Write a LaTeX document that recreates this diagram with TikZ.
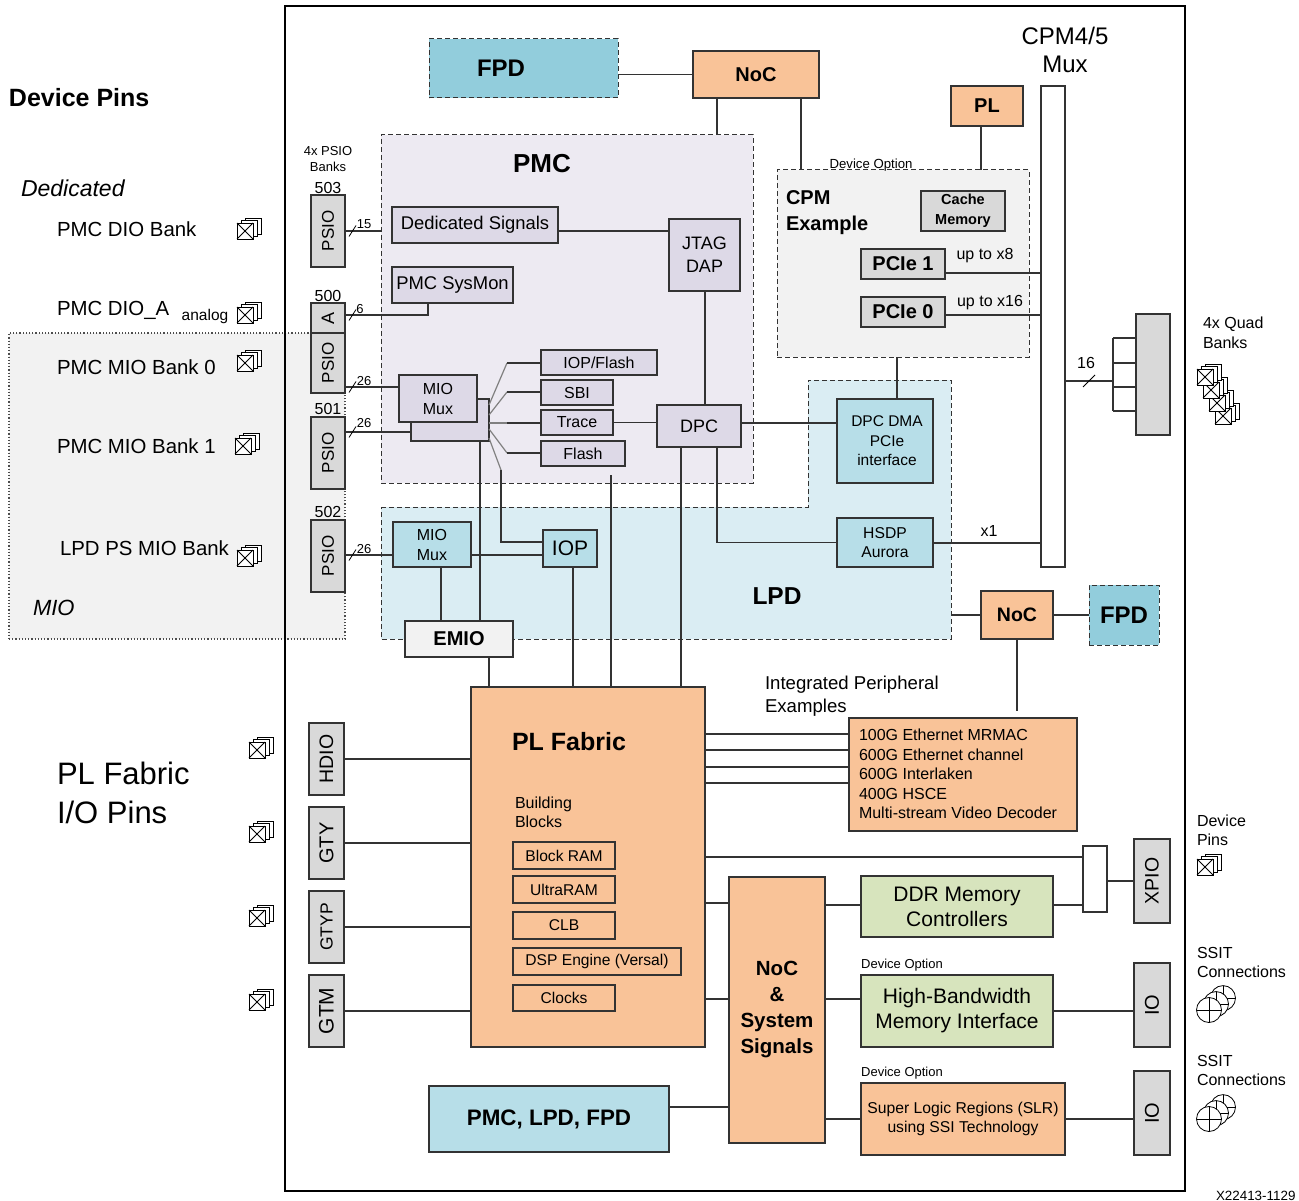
\documentclass[tikz,border=0pt]{standalone}
\usepackage{fontspec}
\setmainfont{Liberation Sans}
\usetikzlibrary{arrows.meta, positioning, calc}
\definecolor{pmcbg}{HTML}{EDEAF2}
\definecolor{pmcbox}{HTML}{DDD9E7}
\definecolor{lpdbg}{HTML}{DAEDF3}
\definecolor{lpdbox}{HTML}{B7DEE8}
\definecolor{fpdbox}{HTML}{92CDDC}
\definecolor{plbox}{HTML}{F9C398}
\definecolor{ddrbox}{HTML}{D7E4BD}
\definecolor{iobox}{HTML}{D9D9D9}
\definecolor{lightbox}{HTML}{F2F2F2}
\definecolor{wirec}{HTML}{333333}

\begin{document}
\begin{tikzpicture}[
  x=1pt, y=-1pt,
  fs/.style 2 args={font=\fontsize{#1}{#2}\selectfont},
  bf/.style 2 args={font=\fontsize{#1}{#2}\selectfont\bfseries},
  rect/.style args={#1,#2,#3,#4}{at={({(#1+#3)/2},{(#2+#4)/2})}, minimum width={(#3-#1)*1pt}, minimum height={(#4-#2)*1pt}},
  st/.style={draw=wirec, line width=1.2pt, inner sep=0pt, outer sep=0pt, align=center, fs={18}{23}},
  region/.style={draw=wirec, line width=1pt, dash pattern=on 5pt off 3pt, inner sep=0pt, outer sep=0pt},
  pmcst/.style={st, fill=pmcbox},
  lpdst/.style={st, fill=lpdbox},
  plst/.style={st, fill=plbox},
  iost/.style={st, fill=iobox},
  block/.style={st, fs={15.6}{20}},
  lbl/.style={inner sep=0pt, outer sep=0pt, align=left, anchor=west},
  wire/.style={draw=wirec, line width=1.5pt},
  fan/.style={draw=gray, line width=1.2pt},
  pinicon/.pic={
    \foreach \d in {8,4,0} {
      \draw[fill=white, line width=0.8pt] (-8+\d,-8-\d*0.6) rectangle (8+\d,8-\d*0.6);
    }
    \draw[line width=0.8pt] (-8,-8) -- (8,8) (-8,8) -- (8,-8);
  },
  ssiticon/.pic={
    \foreach \d in {14,7,0} {
      \draw[fill=white, line width=0.8pt] (\d,-\d*0.85) circle (12.5);
      \draw[line width=0.8pt] (\d-12.5,-\d*0.85) -- (\d+12.5,-\d*0.85) (\d,-\d*0.85-12.5) -- (\d,-\d*0.85+12.5);
    }
  }
]
  \useasboundingbox (0,0) rectangle (1299,1201);

  % regions behind everything
  \node[rect={9,333,345,639}, draw=black!70, dotted, line width=1.2pt, fill=lightbox, inner sep=0pt, outer sep=0pt] (miozone) {};
  \node[rect={285,6,1185,1191}, draw=black, line width=2.6pt, inner sep=0pt, outer sep=0pt] (chip) {};
  \node[region, fill=pmcbg, rect={381,135,753,483}] (pmc) {};
  \draw[region, fill=lpdbg] (381,507) -- (808,507) -- (808,380) -- (951,380) -- (951,639) -- (381,639) -- cycle;
  \node[region, fill=lightbox, rect={777,170,1029,357}] (cpm) {};

  % top row
  \node[region, fill=fpdbox, rect={429,39,618,98}] (fpdtop) {};
  \node[bf={24}{30}] (fpdtoptxt) at (501,68) {FPD};
  \node[plst, bf={20}{26}, rect={693,51,819,98}] (noctop) {NoC};
  \node[plst, bf={20}{26}, rect={951,86,1023,126}] (plbank) {PL};
  \node[st, fill=white, rect={1041,86,1065,567}] (cpmmux) {};
  \node[fs={24}{28}, align=center] (cpmmuxtxt) at (1065,50) {CPM4/5\\Mux};

  % CPM
  \node[fs={13.2}{16}] (cpmopt) at (871,165) {Device Option};
  \node[lbl, bf={20}{26}] (cpmtxt) at (786,213) {CPM\\Example};
  \node[iost, bf={14.5}{20}, rect={921,191,1005,231}] (cache) {Cache\\Memory};
  \node[iost, bf={20}{24}, rect={861,249,945,279}] (pcie1) {PCIe 1};
  \node[iost, bf={20}{24}, rect={861,297,945,327}] (pcie0) {PCIe 0};
  \node[fs={16}{20}] (upx8) at (985,256) {up to x8};
  \node[fs={16}{20}] (upx16) at (990,303) {up to x16};

  % PMC
  \node[bf={26}{30}] (pmctxt) at (542,164) {PMC};
  \node[pmcst, fs={18.4}{24}, rect={392,207,558,243}] (dedsig) {Dedicated Signals};
  \node[pmcst, fs={18.4}{24}, rect={392,267,513,303}] (sysmon) {PMC SysMon};
  \node[pmcst, rect={669,219,740,291}] (jtag) {JTAG\\DAP};
  \node[pmcst, rect={411,399,489,441}] (muxback) {};
  \node[pmcst, fs={16}{20}, rect={399,375,477,422}] (pmcmux) {MIO\\Mux};
  \node[pmcst, fs={16}{21}, rect={541,350,657,375}] (iopflash) {IOP/Flash};
  \node[pmcst, fs={16}{21}, rect={541,380,613,405}] (sbi) {SBI};
  \node[pmcst, fs={16}{21}, rect={541,410,613,435}] (trace) {Trace};
  \node[pmcst, fs={16}{21}, rect={541,441,625,466}] (flash) {Flash};
  \node[pmcst, rect={657,405,741,447}] (dpc) {DPC};

  % LPD
  \node[lpdst, fs={15.5}{19.5}, rect={837,399,933,483}] (dpcdma) {\hspace*{4pt}DPC DMA\\\hspace*{4pt}PCIe\\\hspace*{4pt}interface};
  \node[lpdst, fs={15.7}{19.5}, rect={837,518,933,567}] (hsdp) {HSDP\\Aurora};
  \node[lpdst, fs={16}{20}, rect={393,522,471,567}] (lpdmux) {MIO\\Mux};
  \node[lpdst, fs={21}{24}, rect={543,530,597,567}] (iop) {IOP};
  \node[st, fill=lightbox, bf={20}{24}, rect={405,621,513,657}] (emio) {EMIO};
  \node[bf={24.5}{30}] (lpdtxt) at (777,596) {LPD};
  \node[plst, bf={19.5}{26}, rect={981,591,1053,639}] (nocright) {NoC};
  \node[region, fill=fpdbox, bf={24}{30}, rect={1089,585,1159,645}] (fpdright) {FPD};

  % PL fabric and its blocks
  \node[plst, rect={471,687,705,1047}] (plfabric) {};
  \node[bf={25}{32}] (pltxt) at (569,742) {PL Fabric};
  \node[lbl, fs={16}{19}] (bldtxt) at (515,812) {Building\\Blocks};
  \node[block, rect={513,842,615,869}] (bram) {Block RAM};
  \node[block, rect={513,876,615,903}] (uram) {UltraRAM};
  \node[block, rect={513,912,615,939}] (clb) {CLB};
  \node[block, rect={513,948,681,975}] (dsp) {DSP Engine (Versal)};
  \node[block, rect={513,985,615,1011}] (clocks) {Clocks};

  \node[lbl, fs={18.6}{23}] (perutxt) at (765,696) {Integrated Peripheral\\Examples};
  \node[plst, rect={849,718,1077,831}] (periph) {};
  \node[lbl, fs={16}{19.4}] (perilist) at (859,774) {100G Ethernet MRMAC\\600G Ethernet channel\\600G Interlaken\\400G HSCE\\Multi-stream Video Decoder};

  \node[plst, bf={20.5}{26}, rect={729,877,825,1143}] (nocsys) {NoC\\\&\\System\\Signals};
  \node[st, fill=ddrbox, fs={21}{25}, rect={861,876,1053,937}] (ddr) {DDR Memory\\Controllers};
  \node[st, fill=ddrbox, fs={21}{25}, rect={861,975,1053,1047}] (hbm) {High-Bandwidth\\Memory Interface};
  \node[plst, fs={15.7}{19}, rect={861,1083,1065,1155}] (slr) {Super Logic Regions (SLR)\\using SSI Technology};
  \node[st, fill=lpdbox, bf={22.4}{28}, rect={429,1086,669,1152}] (ps) {PMC, LPD, FPD};
  \node[fs={13}{16}] (hbmopt) at (902,965) {Device Option};
  \node[fs={13}{16}] (slropt) at (902,1073) {Device Option};
  \node[st, fill=white, rect={1083,846,1107,912}] (xmux) {};

  % IO banks, right
  \node[iost, rect={1136,314,1170,435}] (quad) {};
  \node[iost, fs={19.5}{26}, rect={1134,839,1170,923}] (xpio) {\rotatebox{90}{XPIO}};
  \node[iost, fs={20}{26}, rect={1134,963,1170,1047}] (iohbm) {\rotatebox{90}{IO}};
  \node[iost, fs={20}{26}, rect={1134,1071,1170,1155}] (ioslr) {\rotatebox{90}{IO}};

  % IO banks, left
  \node[iost, fs={17}{26}, rect={311,195,345,267}] (psio503) {\rotatebox{90}{PSIO}};
  \node[iost, rect={311,303,345,333}] (bankA) {\rotatebox{90}{A}};
  \node[iost, fs={17}{26}, rect={311,333,345,393}] (psio500) {\rotatebox{90}{PSIO}};
  \node[iost, fs={17}{26}, rect={311,417,345,489}] (psio501) {\rotatebox{90}{PSIO}};
  \node[iost, fs={17}{26}, rect={311,520,345,592}] (psio502) {\rotatebox{90}{PSIO}};
  \node[iost, fs={19.5}{26}, rect={309,723,344,795}] (hdio) {\rotatebox{90}{HDIO}};
  \node[iost, fs={20}{26}, rect={309,807,344,879}] (gty) {\rotatebox{90}{GTY}};
  \node[iost, fs={17.5}{26}, rect={309,891,344,963}] (gtyp) {\rotatebox{90}{GTYP}};
  \node[iost, fs={21}{26}, rect={309,975,344,1047}] (gtm) {\rotatebox{90}{GTM}};
  \node[fs={13}{16.5}, align=center] (psiotxt) at (328,159) {4x PSIO\\Banks};
  \foreach \n/\t/\y in {n503/503/188, n500/500/296, n501/501/409, n502/502/512}
    \node[fs={16}{18}] (\n) at (328,\y) {\t};

  % wires
  \draw[wire] (fpdtop.east |- noctop) -- (noctop.west);
  \draw[wire] (noctop.south -| 717,0) -- (pmc.north -| 717,0);
  \draw[wire] (noctop.south -| 801,0) -- (cpm.north -| 801,0);
  \draw[wire] (plbank.south -| 981,0) -- (cpm.north -| 981,0);
  \draw[wire] (pcie1.east |- 0,273) -- (cpmmux.west |- 0,273);
  \draw[wire] (pcie0.east |- 0,315) -- (cpmmux.west |- 0,315);
  \draw[wire] (cpm.south -| 897,0) -- (dpcdma.north -| 897,0);
  \draw[wire] (dedsig.east |- 0,231) -- (jtag.west |- 0,231);
  \draw[wire] (jtag.south -| 705,0) -- (dpc.north -| 705,0);
  \draw[wire] (trace.east) -- (trace.east -| dpc.west);
  \draw[wire] (dpc.east |- 0,423) -- (dpcdma.west |- 0,423);
  \draw[wire] (dpc.south -| 681,0) -- (plfabric.north -| 681,0);
  \draw[wire] (dpc.south -| 717,0) |- (hsdp.west);
  \draw[wire] (hsdp.east |- 0,543) -- (cpmmux.west |- 0,543);
  \node[fs={16}{18}] (x1txt) at (989,531) {x1};

  % fan out of the second mux
  \coordinate (fan1) at (507,363);
  \coordinate (fan2) at (507,392);
  \coordinate (fan3) at (507,423);
  \coordinate (fan4) at (507,453);
  \coordinate (fan5) at (501,470);
  \draw[fan] (muxback.east |- 0,405) -- (fan1);
  \draw[fan] (muxback.east |- 0,415) -- (fan2);
  \draw[fan] (muxback.east |- 0,423) -- (fan3);
  \draw[fan] (muxback.east |- 0,429) -- (fan4);
  \draw[fan] (muxback.east |- 0,438) -- (fan5);
  \foreach \a/\b in {fan1/iopflash,fan2/sbi,fan3/trace,fan4/flash} \draw[wire] (\a) -- (\a -| \b.west);
  \draw[wire] (fan5) |- (iop.west |- 0,542);

  \draw[wire] (muxback.south -| 480,0) -- (emio.north -| 480,0);
  \draw[wire] (flash.south -| 611,0) ++(0,9) -- (plfabric.north -| 611,0);
  \draw[wire] (iop.south -| 573,0) -- (plfabric.north -| 573,0);
  \draw[wire] (lpdmux.east |- 0,555) -- (iop.west |- 0,555);
  \draw[wire] (lpdmux.south -| 441,0) -- (emio.north -| 441,0);
  \draw[wire] (emio.south -| 489,0) -- (plfabric.north -| 489,0);

  % PSIO pins to the muxes
  \draw[wire] (psio503.east |- 0,231) -- (pmc.west |- 0,231);
  \draw[wire] (bankA.east |- 0,315) -| (sysmon.south -| 428,0);
  \draw[wire] (psio500.east |- 0,387) -- (pmcmux.west |- 0,387);
  \draw[wire] (psio501.east |- 0,432) -- (muxback.west |- 0,432);
  \draw[wire] (psio502.east |- 0,555) -- (lpdmux.west |- 0,555);
  \foreach \y in {231,315,387,432,555} \draw[line width=0.8pt] (349,\y+5.5) -- (356,\y-5.5);
  \foreach \n/\t/\x/\y in {w15/15/364/224, w6/6/360/309, w26a/26/364/381, w26b/26/364/423, w26c/26/364/549}
    \node[fs={13}{15}] (\n) at (\x,\y) {\t};

  % NoC on the right
  \draw[wire] (nocright.west -| 951,0) -- (nocright.west);
  \draw[wire] (nocright.east) -- (fpdright.west);
  \coordinate (nocdrop) at (1017,711);
  \draw[wire] (nocright.south -| nocdrop) -- (nocdrop);

  % quad bank
  \coordinate (qbus) at (1113,381);
  \draw[wire] (cpmmux.east |- qbus) -- (qbus);
  \draw[wire] (1113,338) -- (1113,411);
  \foreach \y in {338,363,387,411} \draw[wire] (1113,\y) -- (quad.west |- 0,\y);
  \draw[line width=0.8pt] (1083,387) -- (1095,375);
  \node[fs={16}{18}] (t16) at (1086,363) {16};

  % PL fabric fan out
  \foreach \y in {734,750,767,783} \draw[wire] (plfabric.east |- 0,\y) -- (periph.west |- 0,\y);
  \draw[wire] (plfabric.east |- 0,857) -- (xmux.west |- 0,857);
  \draw[wire] (plfabric.east |- 0,903) -- (nocsys.west |- 0,903);
  \draw[wire] (plfabric.east |- 0,999) -- (nocsys.west |- 0,999);
  \draw[wire] (nocsys.east |- 0,905) -- (ddr.west |- 0,905);
  \draw[wire] (nocsys.east |- 0,999) -- (hbm.west |- 0,999);
  \draw[wire] (nocsys.east |- slr) -- (slr.west);
  \draw[wire] (ps.east |- 0,1107) -- (nocsys.west |- 0,1107);
  \draw[wire] (ddr.east |- 0,905) -- (xmux.west |- 0,905);
  \draw[wire] (xmux.east |- xpio) -- (xpio.west);
  \draw[wire] (hbm.east) -- (iohbm.west |- hbm);
  \draw[wire] (slr.east) -- (ioslr.west |- slr);
  \foreach \a in {hdio,gty,gtyp,gtm} \draw[wire] (\a.east) -- (\a -| plfabric.west);

  % pin labels, left
  \node[lbl, bf={25}{30}] (devpins) at (9,98) {Device Pins};
  \node[lbl, font=\fontsize{23}{26}\selectfont\itshape] (dedic) at (21,188) {Dedicated};
  \node[lbl, fs={20.4}{24}] (diobank) at (57,229) {PMC DIO Bank};
  \node[lbl, fs={20.4}{24}] (dioA) at (57,310) {PMC DIO\_A};
  \node[fs={15.5}{18}] (analog) at (205,316) {analog};
  \node[lbl, fs={20.4}{24}] (miobank0) at (57,367) {PMC MIO Bank 0};
  \node[lbl, fs={20.4}{24}] (miobank1) at (57,446) {PMC MIO Bank 1};
  \node[lbl, fs={20.4}{24}] (lpdbank) at (60,548) {LPD PS MIO Bank};
  \node[lbl, font=\fontsize{22}{26}\selectfont\itshape] (miotxt) at (33,608) {MIO};
  \node[lbl, fs={31}{39.5}] (pltitle) at (57,793) {PL Fabric\\I/O Pins};

  % pin labels, right
  \node[lbl, fs={16}{20}] (quadtxt) at (1203,333) {4x Quad\\Banks};
  \node[lbl, fs={16}{19}] (devtxt) at (1197,830) {Device\\Pins};
  \node[lbl, fs={16}{19}] (ssit1) at (1197,962) {SSIT\\Connections};
  \node[lbl, fs={16}{19}] (ssit2) at (1197,1070) {SSIT\\Connections};
  \node[fs={13.4}{15}, anchor=east] (figid) at (1299,1196) {X22413-1129};

  % pin symbols
  \foreach \x/\y in {245/231, 245/315, 245/363, 243/446, 245/558, 257/750, 257/834, 257/918, 257/1002, 1205/867}
    \pic at (\x,\y) {pinicon};
  \foreach \x/\y in {1223/416, 1217/403, 1211/390, 1205/377}
    \pic at (\x,\y) {pinicon};
  \pic at (1209,1010) {ssiticon};
  \pic at (1209,1119) {ssiticon};
\end{tikzpicture}
\end{document}
